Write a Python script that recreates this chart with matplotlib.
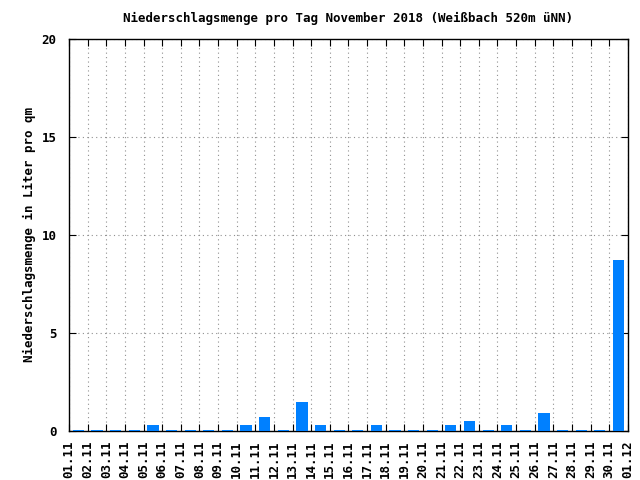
import numpy as np
import matplotlib
matplotlib.use("Agg")
import matplotlib.pyplot as plt

tick_labels = ["%02d.11" % d for d in range(1, 31)] + ["01.12"]
rain = [0.05, 0.05, 0.05, 0.05, 0.3, 0.05, 0.05, 0.05, 0.05, 0.3,
        0.7, 0.05, 1.5, 0.3, 0.05, 0.05, 0.3, 0.05, 0.05, 0.05,
        0.3, 0.5, 0.05, 0.3, 0.05, 0.9, 0.05, 0.05, 0.05, 8.7]

plt.rcParams['font.family'] = ['DejaVu Sans Mono']
plt.rcParams['font.weight'] = 'bold'

fig = plt.figure(figsize=(6.4, 4.8), dpi=100)
ax = fig.add_axes([0.108, 0.102, 0.873, 0.817])

x = np.arange(len(rain)) + 0.5
ax.bar(x, rain, width=0.6, color='#0080ff', zorder=3)

ax.set_xlim(0, len(tick_labels) - 1)
ax.set_ylim(0, 20)
ax.set_xticks(np.arange(len(tick_labels)))
ax.set_xticklabels(tick_labels, rotation=90, fontsize=9, fontweight='bold')
ax.set_yticks([0, 5, 10, 15, 20])
ax.set_yticklabels(["0", "5", "10", "15", "20"], fontsize=9, fontweight='bold')
ax.tick_params(direction='in', top=True, right=True, length=5, width=0.8)
ax.tick_params(axis='x', pad=7)
ax.tick_params(axis='y', pad=9)
ax.grid(True, color='#909090', linestyle=(0, (1, 3)), linewidth=0.8, zorder=0)
for s in ax.spines.values():
    s.set_linewidth(1)

ax.set_ylabel("Niederschlagsmenge in Liter pro qm", fontsize=9,
              fontweight='bold', labelpad=4)
ax.set_title("Niederschlagsmenge pro Tag November 2018 (Weißbach 520m üNN)",
             fontsize=9, fontweight='bold', pad=12)

fig.savefig("out.png", dpi=100)
